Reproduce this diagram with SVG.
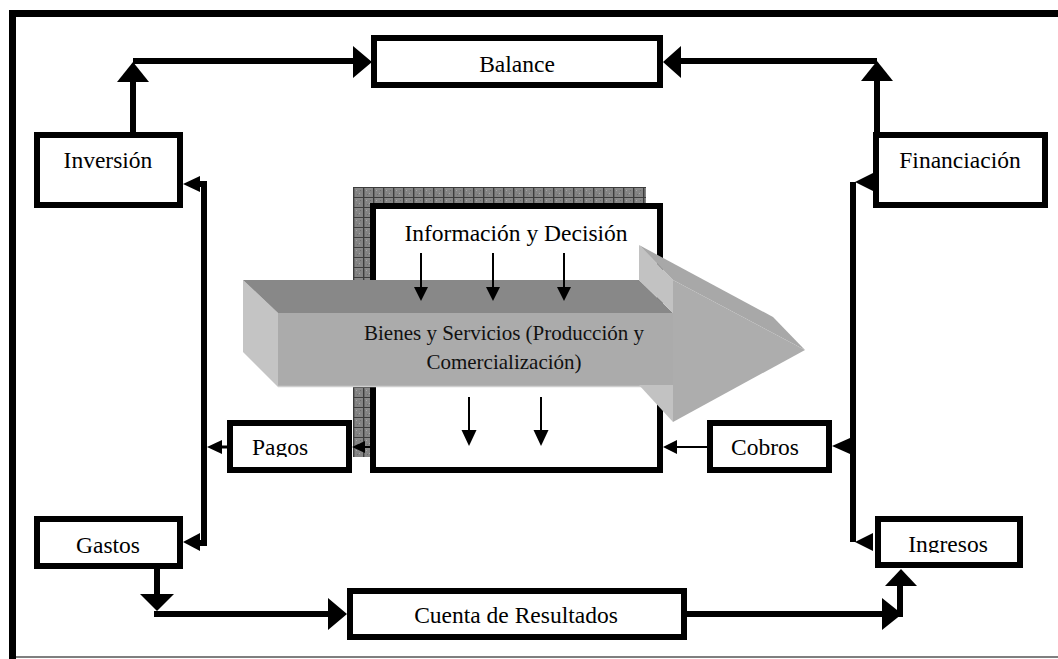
<svg xmlns="http://www.w3.org/2000/svg" width="1058" height="659" viewBox="0 0 1058 659">
<defs>
<style>
.box{fill:#fff;stroke:#000;stroke-width:6}
.lbl{font-family:"Liberation Serif","Times New Roman",serif;font-size:23.5px;fill:#000;text-anchor:middle}
.big{font-family:"Liberation Serif","Times New Roman",serif;font-size:21px;fill:#111;text-anchor:middle}
.thick{fill:none;stroke:#000;stroke-width:6}
.thin{fill:none;stroke:#000;stroke-width:2}
.mid{fill:none;stroke:#000;stroke-width:3}
.ah{fill:#000}
</style>
<pattern id="hatch" x="353" y="187" width="10" height="10" patternUnits="userSpaceOnUse">
<rect width="10" height="10" fill="#848484"/>
<rect x="3" y="3" width="1" height="1" fill="#a8a8a8"/>
<rect x="6" y="6" width="1" height="1" fill="#a8a8a8"/>
<rect x="4" y="7" width="1" height="1" fill="#6a6a6a"/>
<rect x="7" y="3" width="1" height="1" fill="#6a6a6a"/>
<rect x="0" y="0" width="10" height="1.4" fill="#3c3c3c"/>
<rect x="0" y="0" width="1.4" height="10" fill="#3c3c3c"/>
<rect x="1.4" y="1.4" width="8.6" height="0.7" fill="#a0a0a0"/>
</pattern>
<clipPath id="clipPagos"><rect x="233" y="426" width="113" height="31"/></clipPath>
<clipPath id="clipIngresos"><rect x="881" y="522" width="136" height="31"/></clipPath>
</defs>

<g id="frame">
<path d="M12.5,659 V13.5 H1058" fill="none" stroke="#000" stroke-width="7"/>
<path d="M16,657 H1058" fill="none" stroke="#555" stroke-width="1.5"/>
</g>

<g id="balance">
<rect class="box" x="374" y="38" width="286" height="47"/>
<text class="lbl" x="517" y="72">Balance</text>
</g>

<g id="inversion">
<rect class="box" x="37" y="135" width="143" height="70"/>
<text class="lbl" x="108" y="168">Inversión</text>
</g>

<g id="financiacion">
<rect class="box" x="876" y="135" width="169" height="70"/>
<text class="lbl" x="960" y="168">Financiación</text>
</g>

<g id="pagos">
<rect class="box" x="230" y="423" width="119" height="47"/>
<text class="lbl" x="280" y="455" clip-path="url(#clipPagos)">Pagos</text>
</g>

<g id="cobros">
<rect class="box" x="710" y="423" width="119" height="47"/>
<text class="lbl" x="765" y="455">Cobros</text>
</g>

<g id="gastos">
<rect class="box" x="37" y="519" width="143" height="47"/>
<text class="lbl" x="108" y="553">Gastos</text>
</g>

<g id="ingresos">
<rect class="box" x="878" y="519" width="142" height="46"/>
<text class="lbl" x="948" y="552" clip-path="url(#clipIngresos)">Ingresos</text>
</g>

<g id="cuenta-resultados">
<rect class="box" x="350" y="591" width="334" height="46"/>
<text class="lbl" x="516" y="623">Cuenta de Resultados</text>
</g>

<g id="informacion-decision">
<rect x="353" y="187" width="293" height="270" fill="url(#hatch)"/>
<rect class="box" x="373" y="206" width="287" height="264"/>
<text class="lbl" x="516" y="241">Información y Decisión</text>
</g>

<g id="connectors">
<path class="thick" d="M133,132 V76"/>
<path class="thick" d="M133,61 H357"/>
<polygon class="ah" points="133,62 117,82 149,82"/>
<polygon class="ah" points="372,62 353,46 353,78"/>
<path class="thick" d="M877,132 V76"/>
<path class="thick" d="M877,61 H678"/>
<polygon class="ah" points="877,61 861,81 893,81"/>
<polygon class="ah" points="663,62 681,46 681,78"/>
<path class="thick" d="M198,184 H204 V543 H198"/>
<polygon class="ah" points="183,184 200,176 200,192"/>
<polygon class="ah" points="183,542 200,533 200,551"/>
<path class="mid" d="M227,447 H220"/>
<polygon class="ah" points="207,447 222,440 222,454"/>
<path class="thin" d="M371,447 H362"/>
<polygon class="ah" points="352,447 365,441 365,453"/>
<path class="thick" d="M853,182 V542"/>
<polygon class="ah" points="855,182 873,173 873,191"/>
<polygon class="ah" points="855,542 873,533 873,551"/>
<path class="mid" d="M853,446 H848"/>
<polygon class="ah" points="832,446 850,438 850,454"/>
<path class="thin" d="M707,447 H675"/>
<polygon class="ah" points="663,447 677,440 677,454"/>
<path class="thick" d="M157,569 V600"/>
<polygon class="ah" points="140,594 174,594 157,611"/>
<path class="thick" d="M154,614 H332"/>
<polygon class="ah" points="347,614 328,598 328,630"/>
<path class="thick" d="M687,614 H886"/>
<polygon class="ah" points="902,614 882,598 882,630"/>
<path class="thick" d="M900,617 V580"/>
<polygon class="ah" points="901,569 885,586 917,586"/>
</g>

<g id="bienes-servicios">
<polygon points="243,280 278,313 278,387 243,352" fill="#c4c4c4"/>
<polygon points="243,280 639,280 673,313 278,313" fill="#888888"/>
<rect x="278" y="313" width="395" height="74" fill="#ababab"/>
<line x1="278" y1="386.5" x2="673" y2="386.5" stroke="#cfcfcf" stroke-width="1.5"/>
<polygon points="639,245 673,280 673,313 639,280" fill="#c2c2c2"/>
<polygon points="639,245 773,317 805,350 673,280" fill="#a8a8a8"/>
<polygon points="673,280 805,350 673,422" fill="#adadad"/>
<polygon points="639,385 673,385 673,422" fill="#c2c2c2"/>
<text class="big" x="504" y="340">Bienes y Servicios (Producción y</text>
<text class="big" x="504" y="369">Comercialización)</text>
</g>

<g id="flow-arrows">
<path class="thin" d="M421,253 V290 M493,253 V290 M564,253 V290"/>
<polygon class="ah" points="414,287 428,287 421,301"/>
<polygon class="ah" points="486,287 500,287 493,301"/>
<polygon class="ah" points="557,287 571,287 564,301"/>
<path class="thin" d="M469,397 V434 M541,397 V434"/>
<polygon class="ah" points="461.5,430 476.5,430 469,446"/>
<polygon class="ah" points="533.5,430 548.5,430 541,446"/>
</g>
</svg>
